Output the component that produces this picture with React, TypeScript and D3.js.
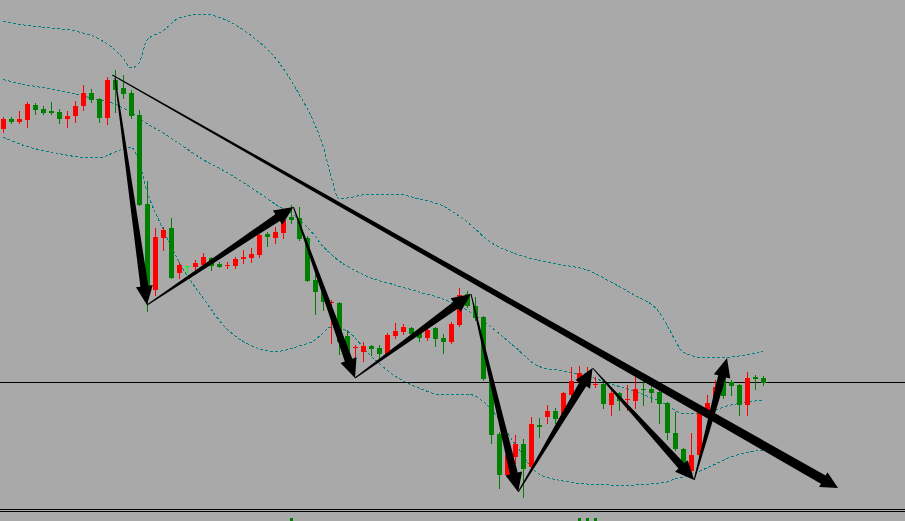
import * as d3 from "d3";

const W = 905;
const H = 521;

// prices in points (1 point = 0.0001), one entry per candle
const openPts = [
  11253, 11263, 11260, 11262, 11277, 11273, 11271, 11270, 11263, 11266,
  11276, 11289, 11283, 11264, 11302, 11294, 11289, 11267, 11178, 11092,
  11144, 11154, 11109, 11116, 11115, 11117, 11124, 11118, 11116, 11116,
  11123, 11124, 11127, 11148, 11144, 11149, 11165, 11164, 11144, 11102,
  11090, 11079, 11079, 11046, 11034, 11030, 11036, 11034, 11028, 11046,
  11050, 11054, 11050, 11044, 11054, 11044, 11040, 11057, 11088, 11076,
  11065, 11002, 10948, 10907, 10925, 10938, 10915, 10957, 10965, 10971,
  10967, 10987, 11000, 11005, 10997, 10998, 10977, 10989, 10982, 10981,
  10993, 10993, 10990, 10979, 10949, 10933, 10911, 10927, 10967, 10979,
  11005, 11000, 10997, 10977, 11005, 11004,
];
const highPts = [
  11265, 11265, 11271, 11280, 11279, 11276, 11280, 11273, 11271, 11281,
  11297, 11293, 11284, 11305, 11312, 11307, 11292, 11272, 11201, 11154,
  11155, 11164, 11120, 11116, 11122, 11129, 11125, 11120, 11120, 11125,
  11132, 11134, 11148, 11150, 11155, 11165, 11177, 11175, 11146, 11108,
  11097, 11082, 11080, 11052, 11037, 11040, 11037, 11037, 11049, 11059,
  11058, 11055, 11052, 11055, 11055, 11048, 11060, 11094, 11091, 11085,
  11066, 11003, 10950, 10934, 10947, 10943, 10965, 10964, 10977, 10974,
  10990, 11015, 11016, 11015, 11005, 10999, 10992, 10990, 10997, 11005,
  11002, 10999, 10994, 10980, 10970, 10934, 10949, 10977, 10987, 11002,
  11010, 11002, 10998, 11010, 11007, 11006,
];
const lowPts = [
  11250, 11259, 11259, 11255, 11268, 11268, 11268, 11259, 11255, 11260,
  11272, 11280, 11260, 11258, 11270, 11284, 11264, 11177, 11071, 11087,
  11132, 11104, 11104, 11109, 11112, 11114, 11112, 11115, 11114, 11114,
  11119, 11120, 11125, 11136, 11139, 11144, 11159, 11142, 11101, 11068,
  11072, 11039, 11028, 11026, 11022, 11021, 11027, 11024, 11027, 11044,
  11048, 11047, 11041, 11042, 11036, 11029, 11039, 11056, 11075, 11062,
  11002, 10939, 10894, 10905, 10919, 10885, 10914, 10945, 10959, 10959,
  10966, 10985, 10999, 11001, 10995, 10974, 10967, 10972, 10972, 10974,
  10977, 10980, 10959, 10943, 10932, 10915, 10910, 10926, 10966, 10978,
  10984, 10987, 10967, 10967, 10993, 10997,
];
const closePts = [
  11263, 11260, 11263, 11278, 11272, 11269, 11269, 11263, 11266, 11276,
  11289, 11282, 11264, 11302, 11292, 11288, 11266, 11177, 11093, 11145,
  11152, 11104, 11117, 11116, 11119, 11125, 11116, 11115, 11117, 11123,
  11125, 11128, 11147, 11145, 11150, 11162, 11162, 11143, 11101, 11090,
  11080, 11080, 11040, 11030, 11035, 11036, 11033, 11028, 11047, 11051,
  11055, 11048, 11044, 11052, 11043, 11040, 11058, 11087, 11076, 11064,
  11003, 10947, 10907, 10927, 10938, 10913, 10958, 10955, 10971, 10963,
  10989, 11001, 11009, 11009, 10998, 10978, 10989, 10981, 10983, 10993,
  10992, 10989, 10978, 10949, 10933, 10918, 10927, 10969, 10979, 10995,
  10986, 10996, 10977, 11004, 11003, 10999,
];

// Bollinger bands, read at these candle indices
const bandIdx = [
  0, 3, 6, 9, 12, 14, 15, 16, 17, 18, 20, 22, 25, 28, 31, 34, 37, 39, 40, 41,
  42, 43, 46, 49, 52, 55, 58, 61, 64, 67, 70, 73, 76, 79, 82, 83, 84, 85, 88,
  91, 95,
];
const upperPts = [
  11361, 11356.5, 11354, 11351, 11343, 11332, 11324, 11314, 11319, 11342,
  11351, 11364, 11368, 11361.5, 11346.5, 11324.5, 11288, 11257, 11236, 11206,
  11183, 11184, 11188, 11188, 11183, 11176, 11160, 11139.5, 11128.5, 11121.5,
  11117, 11112, 11100, 11086.5, 11070, 11057, 11042, 11030, 11024, 11025,
  11031,
];
const middlePts = [
  11302.5, 11297, 11293, 11288, 11282, 11278, 11274, 11270, 11264, 11258.5,
  11249, 11238.5, 11222.5, 11209.5, 11194.5, 11178, 11163, 11146, 11135.5, 11128,
  11121, 11116, 11104, 11097, 11090, 11083, 11072, 11055, 11035, 11015.5,
  11011, 11006, 10998, 10990.5, 10981, 10977, 10972, 10968, 10970, 10977,
  10982,
];
const lowerPts = [
  11245, 11235.5, 11230, 11225.5, 11224, 11230, 11233, 11235, 11220, 11191,
  11153, 11120, 11084, 11053, 11036.5, 11030.5, 11036, 11042, 11049, 11055,
  11054, 11051, 11026, 11006, 10994, 10987, 10988, 10973, 10938, 10908,
  10901, 10898, 10897, 10897, 10899, 10900, 10903, 10905, 10914, 10925,
  10932,
];

// horizontal level
const levelPts = 11000;

// swing arrows (candle index, price points)
const zigIdx = [14, 18, 36.3, 44, 58.5, 64.4, 73.7, 86.4, 90.5];
const zigPts = [11304, 11077, 11175, 11004, 11088, 10890, 11014, 10902, 11024];

// trend arrow
const trendIdx = [13.66, 104.38];
const trendPts = [11307, 10894];

// tops of the sub-window histogram that peek out at the bottom
const subIdx = [36, 72, 73, 74];
const subVals = [6.5, 6.5, 6.7, 6.5];

const BG = "#a9a9a9";
const BULL = "#ff0000";
const BEAR = "#008000";
const DOJI = "#00ff00";
const BAND = "#008080";

function arrowPoly(
  x0: number,
  y0: number,
  x1: number,
  y1: number,
  w0: number,
  w1: number,
  hw: number,
  hl: number,
) {
  const dx = x1 - x0;
  const dy = y1 - y0;
  const len = Math.hypot(dx, dy);
  const ux = dx / len;
  const uy = dy / len;
  const nx = -uy;
  const ny = ux;
  const bx = x1 - ux * hl;
  const by = y1 - uy * hl;
  const pts = [
    [x0 + (nx * w0) / 2, y0 + (ny * w0) / 2],
    [bx + (nx * w1) / 2, by + (ny * w1) / 2],
    [bx + (nx * hw) / 2, by + (ny * hw) / 2],
    [x1, y1],
    [bx - (nx * hw) / 2, by - (ny * hw) / 2],
    [bx - (nx * w1) / 2, by - (ny * w1) / 2],
    [x0 - (nx * w0) / 2, y0 - (ny * w0) / 2],
  ];
  return pts.map((p) => p.map((v) => v.toFixed(2)).join(",")).join(" ");
}

export default function App() {
  const x = d3.scaleLinear().domain([0, 95]).range([3, 763]);
  const y = d3.scaleLinear().domain([10861, 11382]).range([H, 0]);
  const ySub = d3.scaleLinear().domain([0, 10]).range([530, 512]);

  const bandLine = (vals: number[]) =>
    d3
      .line<number>()
      .x((_, i) => x(bandIdx[i]))
      .y((d) => y(d))
      .curve(d3.curveMonotoneX)(vals) || "";

  const candles = openPts.map((o, i) => {
    const c = closePts[i];
    const cx = Math.round(x(i));
    const color = o === c ? DOJI : c > o ? BULL : BEAR;
    const top = Math.round(y(Math.max(o, c)));
    const bot = Math.round(y(Math.min(o, c)));
    return (
      <g key={i} fill={color} stroke={color}>
        <line
          x1={cx + 0.5}
          x2={cx + 0.5}
          y1={Math.round(y(highPts[i]))}
          y2={Math.round(y(lowPts[i])) + 1}
          strokeWidth={1}
        />
        <rect
          x={cx - 2}
          y={top}
          width={5}
          height={Math.max(1, bot - top)}
          stroke="none"
        />
      </g>
    );
  });

  const arrows = zigIdx.slice(1).map((_, k) => {
    const x0 = x(zigIdx[k]);
    const y0 = y(zigPts[k]);
    const x1 = x(zigIdx[k + 1]);
    const y1 = y(zigPts[k + 1]);
    return (
      <polygon
        key={k}
        points={arrowPoly(x0, y0, x1, y1, 1, 8, 17, 19)}
        fill="#000"
      />
    );
  });

  const levelY = Math.round(y(levelPts)) + 0.5;

  return (
    <svg
      width={W}
      height={H}
      style={{ position: "fixed", left: 0, top: 0, display: "block" }}
    >
      <rect width={W} height={H} fill={BG} />

      <g
        fill="none"
        stroke={BAND}
        strokeWidth={1}
        strokeDasharray="3,2"
        shapeRendering="crispEdges"
      >
        <path d={bandLine(upperPts)} />
        <path d={bandLine(middlePts)} />
        <path d={bandLine(lowerPts)} />
      </g>

      <line x1={0} x2={W} y1={levelY} y2={levelY} stroke="#000" strokeWidth={1} shapeRendering="crispEdges" />

      <g shapeRendering="crispEdges">{candles}</g>

      {arrows}

      <polygon
        points={arrowPoly(
          x(trendIdx[0]),
          y(trendPts[0]),
          x(trendIdx[1]),
          y(trendPts[1]),
          1,
          9.5,
          17,
          17,
        )}
        fill="#000"
      />

      {/* sub-window */}
      <rect x={0} y={509} width={W} height={H - 509} fill={BG} />
      <g stroke="#000" strokeWidth={1} shapeRendering="crispEdges">
        <line x1={0} x2={W} y1={509.5} y2={509.5} />
        <line x1={0} x2={W} y1={511.5} y2={511.5} />
      </g>
      <g fill={BEAR} shapeRendering="crispEdges">
        {subIdx.map((idx, i) => (
          <rect
            key={i}
            x={Math.round(x(idx)) - 1}
            y={ySub(subVals[i])}
            width={3}
            height={H - ySub(subVals[i])}
          />
        ))}
      </g>
    </svg>
  );
}
